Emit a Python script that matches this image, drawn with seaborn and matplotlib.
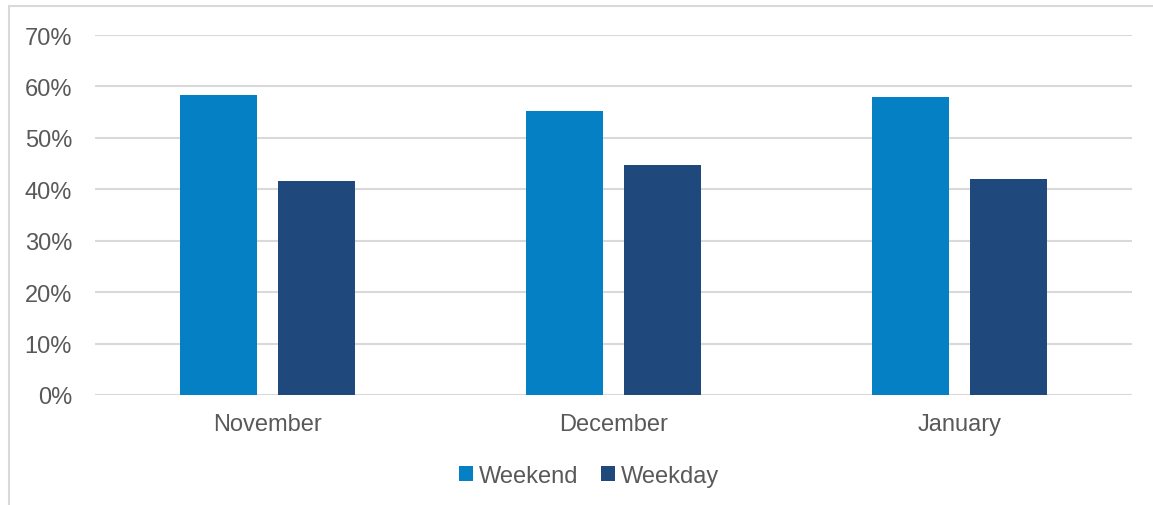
import matplotlib
matplotlib.use("Agg")
import matplotlib.pyplot as plt
from matplotlib.patches import Rectangle
from matplotlib.ticker import PercentFormatter
import seaborn as sns
import pandas as pd

months = ["November", "December", "January"]
weekend = [58.4, 55.3, 58.0]
weekday = [41.6, 44.7, 42.0]
series_names = ["Weekend", "Weekday"]
y_ticks = [0, 10, 20, 30, 40, 50, 60, 70]

df = pd.DataFrame({
    "Month": months * 2,
    "Share": weekend + weekday,
    "Type": [series_names[0]] * len(months) + [series_names[1]] * len(months),
})

sns.set_theme(style="white")
plt.rcParams["font.family"] = ["Liberation Sans", "DejaVu Sans"]

text_color = "#595959"
grid_color = "#D9D9D9"
palette = {"Weekend": "#0580C4", "Weekday": "#1F497D"}

fig = plt.figure(figsize=(11.53, 5.06), dpi=100)
ax = fig.add_axes([95 / 1153, 1 - 396 / 506, (1132 - 95) / 1153, (396 - 36) / 506])

sns.barplot(data=df, x="Month", y="Share", hue="Type", order=months,
            hue_order=series_names, palette=palette, width=0.567, gap=0.214,
            saturation=1, ax=ax, legend=False, edgecolor="none")

ax.set_ylim(0, 70)
ax.set_xlim(-0.5, 2.5)
ax.set_yticks(y_ticks)
ax.yaxis.set_major_formatter(PercentFormatter(decimals=0))
ax.set_axisbelow(True)
ax.yaxis.grid(True, color=grid_color, linewidth=1.5)
for side in ["top", "right", "left", "bottom"]:
    ax.spines[side].set_visible(False)
ax.tick_params(axis="y", length=0, pad=16.5, labelsize=17, labelcolor=text_color)
ax.tick_params(axis="x", length=0, pad=13, labelsize=17, labelcolor=text_color)
ax.set_xlabel("")
ax.set_ylabel("")

handles = [Rectangle((0, 0), 1, 1, facecolor=palette[n], edgecolor="none") for n in series_names]
fig.legend(handles, series_names, loc="center", bbox_to_anchor=(589 / 1153, 1 - 477 / 506),
           ncol=2, frameon=False, fontsize=17, labelcolor=text_color,
           handlelength=0.6, handleheight=0.6, handletextpad=0.25, columnspacing=0.95)

# outer chart frame
fig.add_artist(Rectangle((9 / 1153, -0.05), 1.2, 1 - 7 / 506 + 0.05,
                         transform=fig.transFigure, fill=False,
                         edgecolor=grid_color, linewidth=1.5))

fig.savefig("out.png", dpi=100, facecolor="white")
